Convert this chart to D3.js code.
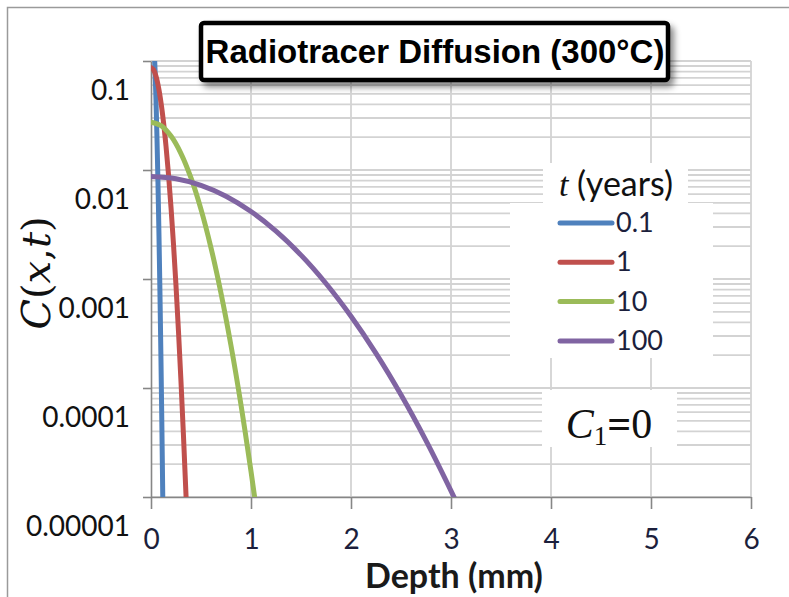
<!DOCTYPE html>
<html>
<head>
<meta charset="utf-8">
<script src="https://cdn.jsdelivr.net/npm/d3@7"></script>
<style>
  body { margin: 0; background: #fff; }
  svg { display: block; }
</style>
</head>
<body>
<div id="chart"></div>
<script>
// depth (mm) and concentration per time series
const times = ["0.1", "1", "10", "100"];

const depth01 = [0, 0.01, 0.02, 0.03, 0.04, 0.05, 0.06, 0.07, 0.08, 0.09, 0.10, 0.11, 0.12];
const conc01  = [0.275, 0.2554, 0.2047, 0.1416, 0.0845, 0.04353, 0.01933, 0.00741, 0.00245, 0.0007, 0.000172, 0.0000366, 0.0000067];

const depth1 = [0, 0.025, 0.05, 0.075, 0.1, 0.125, 0.15, 0.175, 0.2, 0.225, 0.25, 0.275, 0.3, 0.325, 0.35, 0.375];
const conc1  = [0.087, 0.0831, 0.0724, 0.0575, 0.0416, 0.0275, 0.01656, 0.00909, 0.00455, 0.00208, 0.000867, 0.000329, 0.000114, 0.000036, 0.0000104, 0.0000027];

const depth10 = [0, 0.1, 0.2, 0.3, 0.4, 0.5, 0.6, 0.7, 0.8, 0.9, 1.0, 1.05, 1.1];
const conc10  = [0.0275, 0.02555, 0.02047, 0.01416, 0.00845, 0.004353, 0.001933, 0.000741, 0.000245, 0.00007, 0.0000172, 0.0000081, 0.0000037];

const depth100 = [0, 0.25, 0.5, 0.75, 1.0, 1.25, 1.5, 1.75, 2.0, 2.25, 2.5, 2.75, 3.0, 3.1];
const conc100  = [0.0087, 0.00831, 0.00724, 0.00575, 0.00416, 0.00275, 0.001656, 0.000909, 0.000455, 0.000208, 0.0000867, 0.0000329, 0.0000114, 0.0000073];

const xTicks = [0, 1, 2, 3, 4, 5, 6];
const yTicks = [0.1, 0.01, 0.001, 0.0001, 0.00001];
const yTickLabels = ["0.1", "0.01", "0.001", "0.0001", "0.00001"];

const colors = ["#4f81bd", "#c0504d", "#9bbb59", "#8064a2"];

const W = 789, H = 597;
const mLeft = 151, mRight = 751, mTop = 61, mBottom = 497;

const series = [
  {name: times[0], pts: depth01.map((d, i) => [d, conc01[i]])},
  {name: times[1], pts: depth1.map((d, i) => [d, conc1[i]])},
  {name: times[2], pts: depth10.map((d, i) => [d, conc10[i]])},
  {name: times[3], pts: depth100.map((d, i) => [d, conc100[i]])}
];

const svg = d3.select("#chart").append("svg")
  .attr("width", W).attr("height", H);

const defs = svg.append("defs");
defs.append("clipPath").attr("id", "plotclip")
  .append("rect").attr("x", mLeft).attr("y", mTop)
  .attr("width", mRight - mLeft).attr("height", mBottom - mTop);
const shadow = defs.append("filter").attr("id", "shadow")
  .attr("x", "-10%").attr("y", "-30%").attr("width", "130%").attr("height", "170%");
shadow.append("feDropShadow").attr("dx", 4).attr("dy", 5)
  .attr("stdDeviation", 3).attr("flood-color", "#000").attr("flood-opacity", 0.45);

// outer frame (only left/top are visible in the crop)
svg.append("path")
  .attr("d", `M7.5,${H} L7.5,7.5 L${W},7.5`)
  .attr("fill", "none").attr("stroke", "#9a9a9a").attr("stroke-width", 1.5);

const x = d3.scaleLinear().domain([0, 6]).range([mLeft, mRight]);
const y = d3.scaleLog().domain([0.00001, 0.1]).range([mBottom, mTop]);

// gridlines
const grid = svg.append("g");
grid.selectAll(".hg").data(y.ticks()).join("line")
  .attr("x1", mLeft).attr("x2", mRight)
  .attr("y1", d => y(d)).attr("y2", d => y(d))
  .attr("stroke", "#d3d3d3").attr("stroke-width", 1.8);
grid.selectAll(".vg").data(xTicks.slice(1)).join("line")
  .attr("x1", d => x(d)).attr("x2", d => x(d))
  .attr("y1", mTop).attr("y2", mBottom)
  .attr("stroke", "#d3d3d3").attr("stroke-width", 1.8);

// axes
const yAxis = d3.axisLeft(y).tickValues(yTicks).tickSize(8).tickSizeOuter(0).tickPadding(13)
  .tickFormat((d, i) => yTickLabels[i]);
const yg = svg.append("g").attr("transform", `translate(${mLeft},0)`).call(yAxis);
yg.select(".domain").attr("stroke", "#868686").attr("stroke-width", 1.6);
yg.selectAll(".tick line").attr("stroke", "#868686").attr("stroke-width", 1.6);
yg.selectAll(".tick text")
  .attr("font-family", "Lato, 'Open Sans', sans-serif").attr("font-size", 28)
  .attr("fill", "#111").attr("transform", "translate(0,30)");

const xAxis = d3.axisBottom(x).tickValues(xTicks).tickSize(12).tickSizeOuter(0).tickPadding(20)
  .tickFormat(d3.format("d"));
const xg = svg.append("g").attr("transform", `translate(0,${mBottom})`).call(xAxis);
xg.select(".domain").attr("stroke", "#868686").attr("stroke-width", 1.6);
xg.selectAll(".tick line").attr("stroke", "#868686").attr("stroke-width", 1.6);
xg.selectAll(".tick text")
  .attr("font-family", "Lato, 'Open Sans', sans-serif").attr("font-size", 28)
  .attr("fill", "#1c1f3c");

// series
const line = d3.line()
  .x(d => x(d[0])).y(d => y(d[1]))
  .curve(d3.curveCatmullRom.alpha(0.5));
svg.append("g").attr("clip-path", "url(#plotclip)")
  .selectAll("path").data(series).join("path")
  .attr("d", d => line(d.pts))
  .attr("fill", "none")
  .attr("stroke", (d, i) => colors[i])
  .attr("stroke-width", 5)
  .attr("stroke-linecap", "round").attr("stroke-linejoin", "round");

// axis titles
svg.append("text")
  .attr("x", 454).attr("y", 588)
  .attr("text-anchor", "middle")
  .attr("font-family", "Lato, sans-serif").attr("font-weight", "bold")
  .attr("font-size", 34).attr("fill", "#1a1a1a")
  .text("Depth (mm)");

const yt = svg.append("text")
  .attr("transform", "translate(50,273) rotate(-90)")
  .attr("text-anchor", "middle")
  .attr("font-family", "'DejaVu Serif', serif").attr("font-size", 40).attr("fill", "#111");
yt.append("tspan").attr("font-style", "italic").text("C");
yt.append("tspan").text("(");
yt.append("tspan").attr("font-style", "italic").text("x");
yt.append("tspan").text(",");
yt.append("tspan").attr("font-style", "italic").text("t");
yt.append("tspan").text(")");

// legend
const lg = svg.append("g");
lg.append("rect").attr("x", 510).attr("y", 203).attr("width", 203).attr("height", 155).attr("fill", "#fff");
lg.append("rect").attr("x", 543).attr("y", 163).attr("width", 145).attr("height", 40).attr("fill", "#fff");
const lt = lg.append("text").attr("x", 616).attr("y", 196).attr("text-anchor", "middle")
  .attr("font-size", 34).attr("fill", "#111");
lt.append("tspan").attr("font-family", "'Liberation Serif', serif").attr("font-style", "italic").text("t");
lt.append("tspan").attr("font-family", "Lato, sans-serif").text(" (years)");

const items = lg.selectAll(".item").data(times).join("g")
  .attr("transform", (d, i) => `translate(0,${223 + i * 39.3})`);
items.append("line").attr("x1", 560).attr("x2", 612).attr("y1", 0).attr("y2", 0)
  .attr("stroke", (d, i) => colors[i]).attr("stroke-width", 5).attr("stroke-linecap", "round");
items.append("text").attr("x", 616).attr("y", 9)
  .attr("font-family", "Lato, sans-serif").attr("font-size", 27).attr("fill", "#1c1f3c")
  .text(d => d);

// C1 = 0 note
svg.append("rect").attr("x", 542).attr("y", 390).attr("width", 135).attr("height", 57).attr("fill", "#fff");
const c1 = svg.append("text").attr("x", 609).attr("y", 438).attr("text-anchor", "middle")
  .attr("font-family", "'Liberation Serif', serif").attr("font-size", 42).attr("fill", "#111");
c1.append("tspan").attr("font-style", "italic").text("C");
c1.append("tspan").attr("font-size", 27).attr("dy", 7).text("1");
c1.append("tspan").attr("dy", -7).attr("font-weight", "bold").text("=");
c1.append("tspan").text("0");

// title box
svg.append("rect").attr("x", 201).attr("y", 23).attr("width", 467).attr("height", 57)
  .attr("rx", 3).attr("fill", "#fff").attr("stroke", "#000").attr("stroke-width", 4.5)
  .attr("filter", "url(#shadow)");
svg.append("text").attr("x", 435).attr("y", 63).attr("text-anchor", "middle")
  .attr("font-family", "'Liberation Sans', Arial, sans-serif").attr("font-weight", "bold")
  .attr("font-size", 33).attr("fill", "#000")
  .text("Radiotracer Diffusion (300°C)");
</script>
</body>
</html>
